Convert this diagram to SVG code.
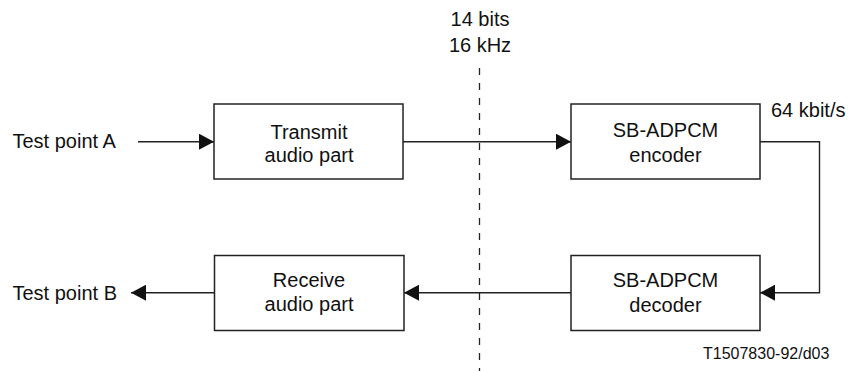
<svg xmlns="http://www.w3.org/2000/svg" width="852" height="371" viewBox="0 0 852 371">
<style>
text{font-family:"Liberation Sans",Arial,sans-serif;font-size:20px;fill:#111}
.c{text-anchor:middle}
.box{fill:#fff;stroke:#222;stroke-width:1.5}
.ln{fill:none;stroke:#222;stroke-width:1.4}
</style>
<defs>
<marker id="ah" markerUnits="userSpaceOnUse" markerWidth="16" markerHeight="16" refX="15" refY="8" orient="auto">
<path d="M0,0 L15,8 L0,16 Z" fill="#111"/>
</marker>
</defs>
<g id="divider">
<line x1="479.5" y1="68" x2="479.5" y2="371" stroke="#222" stroke-width="1.3" stroke-dasharray="7 8"/>
<text class="c" x="480" y="26">14 bits</text>
<text class="c" x="480" y="51.5">16 kHz</text>
</g>
<g id="connectors">
<line class="ln" x1="138" y1="141.7" x2="214" y2="141.7" marker-end="url(#ah)"/>
<line class="ln" x1="403" y1="141.7" x2="571" y2="141.7" marker-end="url(#ah)"/>
<polyline class="ln" points="760,141.7 819.5,141.7 819.5,292.7 760,292.7" marker-end="url(#ah)"/>
<line class="ln" x1="571" y1="292.7" x2="404" y2="292.7" marker-end="url(#ah)"/>
<line class="ln" x1="214" y1="292.7" x2="131" y2="292.7" marker-end="url(#ah)"/>
</g>
<g id="testA"><text x="12.5" y="148">Test point A</text></g>
<g id="testB"><text x="12.5" y="299.5">Test point B</text></g>
<g id="transmit">
<rect class="box" x="214" y="104" width="189" height="75"/>
<text class="c" x="309" y="138.5">Transmit</text>
<text class="c" x="309" y="161.5">audio part</text>
</g>
<g id="encoder">
<rect class="box" x="571" y="104" width="189" height="75"/>
<text class="c" x="665.5" y="137">SB-ADPCM</text>
<text class="c" x="665.5" y="161.5">encoder</text>
</g>
<g id="decoder">
<rect class="box" x="571" y="255.5" width="189" height="75"/>
<text class="c" x="665.5" y="287">SB-ADPCM</text>
<text class="c" x="665.5" y="311.5">decoder</text>
</g>
<g id="receive">
<rect class="box" x="214.5" y="255.5" width="189.5" height="75"/>
<text class="c" x="309" y="287">Receive</text>
<text class="c" x="309" y="310.5">audio part</text>
</g>
<text x="771" y="117">64 kbit/s</text>
<text x="703" y="359" style="font-size:16px">T1507830-92/d03</text>
</svg>
